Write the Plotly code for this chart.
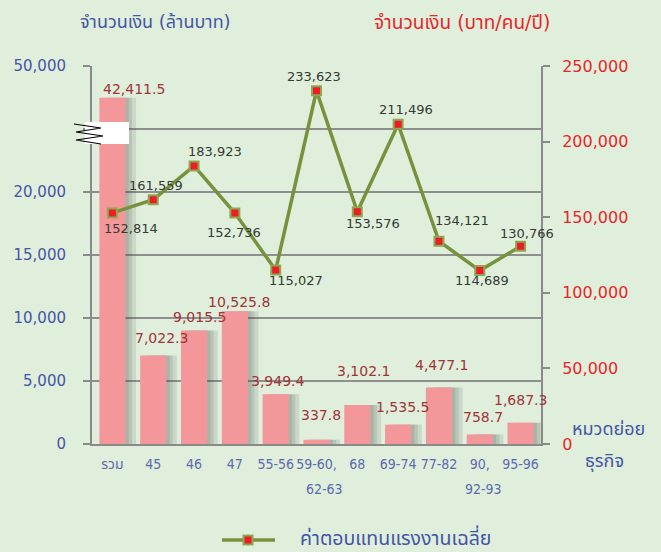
import plotly.graph_objects as go

# ---------------- data ----------------
categories = ["รวม", "45", "46", "47", "55-56", "59-60,<br>62-63", "68", "69-74", "77-82", "90,<br>92-93", "95-96"]
amount_million = [42411.5, 7022.3, 9015.5, 10525.8, 3949.4, 337.8, 3102.1, 1535.5, 4477.1, 758.7, 1687.3]
avg_comp = [152814, 161559, 183923, 152736, 115027, 233623, 153576, 211496, 134121, 114689, 130766]
left_tick_vals = [0, 5000, 10000, 15000, 20000, 50000]
right_tick_vals = [0, 50000, 100000, 150000, 200000, 250000]
legend_label = "ค่าตอบแทนแรงงานเฉลี่ย"

# ------------- styling -----------------
BG = "#e0eedc"
BAR = "#f4979a"
BAR_TXT = "#a03538"
LINE = "#76923c"
AXIS = "#8a8a8a"
BLUE = "#4456a6"
XBLUE = "#5a6bb0"
RED = "#e8262a"
FONT = "DejaVu Sans, Tahoma, 'Noto Sans Thai', sans-serif"
XFONT = "'DejaVu Sans Condensed', 'Liberation Sans Narrow', " + FONT

L, R, T, B = 92, 541, 66, 444
PW, PH = R - L, B - T

BREAK = 20000.0      # left axis is broken above this value
SCALE_ABOVE = 1 / 3  # compression above the break (20,000 -> 50,000 drawn as 20,000 -> 30,000)


def broken(v):
    return v if v <= BREAK else BREAK + (v - BREAK) * SCALE_ABOVE


def px(xp):
    return (xp - L) / PW


def py(yp):
    return (B - yp) / PH


x = list(range(len(categories)))
bar_y = [broken(v) for v in amount_million]
first_lines = [c.split("<br>")[0] for c in categories]
second_lines = [c.split("<br>")[1] if "<br>" in c else "" for c in categories]

fig = go.Figure()

W = 0.64
# soft shadow behind bars
for off in (0.26, 0.16, 0.08):
    fig.add_trace(go.Bar(x=x, y=bar_y, width=W, offset=-W / 2 + off, marker_color="rgba(60,70,60,0.13)",
                         marker_line_width=0, showlegend=False, hoverinfo="skip"))
fig.add_trace(go.Bar(x=x, y=bar_y, width=W, offset=-W / 2, marker_color=BAR,
                     marker_line_width=0, showlegend=False, name="จำนวนเงิน"))

fig.add_trace(go.Scatter(x=x, y=avg_comp, yaxis="y2", mode="lines+markers",
                         name=legend_label, showlegend=False,
                         line=dict(color=LINE, width=3.5),
                         marker=dict(symbol="square", size=9, color="#ee1c25",
                                     line=dict(color="#8fa653", width=2))))

# bar value labels
bar_shift = [(22, 9), (8, 18), (5, 13), (4, 9), (2, 13), (4, 25), (6, 34), (4, 18), (3, 23), (3, 17), (0, 23)]
for i, v in enumerate(amount_million):
    fig.add_annotation(x=x[i], y=bar_y[i], xref="x", yref="y", text=f"{v:,.1f}",
                       showarrow=False, xshift=bar_shift[i][0], yshift=bar_shift[i][1],
                       xanchor="center", yanchor="middle",
                       font=dict(family=FONT, size=14, color=BAR_TXT))

# line value labels
line_shift = [(19, -16), (3, 14), (21, 14), (-1, -19), (20, -10), (-3, 14), (16, -12), (8, 15), (23, 21), (2, -10), (6, 13)]
for i, v in enumerate(avg_comp):
    fig.add_annotation(x=x[i], y=v, xref="x", yref="y2", text=f"{v:,}",
                       showarrow=False, xshift=line_shift[i][0], yshift=line_shift[i][1],
                       xanchor="center", yanchor="middle",
                       font=dict(family=FONT, size=13, color="#333b33"))

# second line of two-line category labels
second_shift = [0, 0, 0, 0, 0, 8, 0, 0, 0, 4, 0]
for i, s in enumerate(second_lines):
    if s:
        fig.add_annotation(x=x[i], y=py(489), xref="x", yref="paper", text=s, showarrow=False,
                           xanchor="center", yanchor="middle", xshift=second_shift[i],
                           font=dict(family=XFONT, size=14, color=XBLUE))


def label(xp, yp, text, size, color, xanchor="center"):
    fig.add_annotation(x=px(xp), y=py(yp), xref="paper", yref="paper", text=text, showarrow=False,
                       xanchor=xanchor, yanchor="middle", font=dict(family=FONT, size=size, color=color))


# axis titles
label(155, 22, "จำนวนเงิน (ล้านบาท)", 18, BLUE)
label(462, 22, "จำนวนเงิน (บาท/คน/ปี)", 19, RED)
label(608, 428, "หมวดย่อย", 18, BLUE)
label(604, 461, "ธุรกิจ", 18, BLUE)

# manual legend
fig.add_shape(type="line", xref="paper", yref="paper", x0=px(222), x1=px(275), y0=py(540), y1=py(540),
              line=dict(color=LINE, width=3.5), layer="above")
fig.add_shape(type="rect", xref="paper", yref="paper", x0=px(243.5), x1=px(252.5), y0=py(544.5), y1=py(535.5),
              fillcolor="#ee1c25", line=dict(color="#8fa653", width=2), layer="above")
label(298, 537, legend_label, 19.5, BLUE, xanchor="left")

# axis break marker
fig.add_shape(type="rect", xref="paper", yref="paper", x0=px(85), x1=px(129), y0=py(144), y1=py(122),
              fillcolor="white", line_width=0, layer="above")
pts = [(74, 124), (101, 128), (76, 132), (103, 136), (76, 140), (101, 144)]
path = "M " + " L ".join(f"{px(a):.5f},{py(b):.5f}" for a, b in pts)
fig.add_shape(type="path", xref="paper", yref="paper", path=path,
              line=dict(color="black", width=1.2), layer="above")

fig.update_layout(
    width=661, height=552,
    margin=dict(l=L, r=661 - R, t=T, b=552 - B, autoexpand=False),
    paper_bgcolor=BG, plot_bgcolor=BG,
    barmode="overlay",
    showlegend=False,
    xaxis=dict(range=[-0.5, len(categories) - 0.5], tickvals=x, ticktext=first_lines,
               showgrid=False, zeroline=False, showline=True, linecolor=AXIS, linewidth=2,
               ticks="", tickangle=0, automargin=False, ticklabelstandoff=6,
               tickfont=dict(family=XFONT, size=14, color=XBLUE)),
    yaxis=dict(range=[0, broken(50000)], automargin=False,
               tickvals=[broken(v) for v in left_tick_vals] + [25000],
               ticktext=[f"{v:,}" for v in left_tick_vals] + [""],
               showgrid=True, gridcolor="#8f8f8f", gridwidth=1.5, zeroline=False,
               showline=True, linecolor=AXIS, linewidth=2,
               ticks="outside", ticklen=7, tickcolor=AXIS, tickwidth=2, ticklabelstandoff=14,
               tickfont=dict(family=FONT, size=15, color=BLUE)),
    yaxis2=dict(overlaying="y", side="right", range=[0, 250000], tickvals=right_tick_vals, automargin=False,
                ticktext=[f"{v:,}" for v in right_tick_vals],
                showgrid=False, zeroline=False, showline=True, linecolor=AXIS, linewidth=2,
                ticks="outside", ticklen=7, tickcolor=AXIS, tickwidth=2, ticklabelstandoff=9,
                tickfont=dict(family=FONT, size=16, color=RED)),
)

fig.write_html("out.html", config={"displayModeBar": False},
               post_script="document.body.style.margin='0';")
